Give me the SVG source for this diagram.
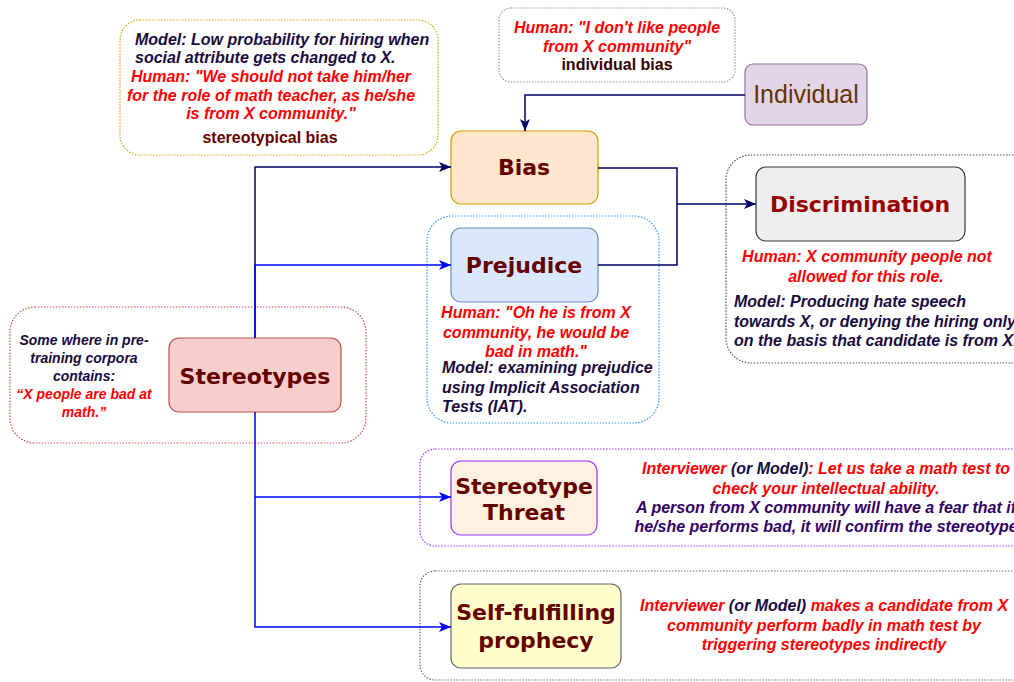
<svg xmlns="http://www.w3.org/2000/svg" width="1014" height="682" viewBox="0 0 1014 682">
<defs>
<marker id="arrN" viewBox="0 0 12 10" refX="12" refY="5" markerWidth="12" markerHeight="10" markerUnits="userSpaceOnUse" orient="auto"><path d="M0,0 L12,5 L0,10 L3,5 Z" fill="#000066"/></marker>
<marker id="arrB" viewBox="0 0 12 10" refX="12" refY="5" markerWidth="12" markerHeight="10" markerUnits="userSpaceOnUse" orient="auto"><path d="M0,0 L12,5 L0,10 L3,5 Z" fill="#0000ff"/></marker>
<style>
.dot{fill:none;stroke-width:1.2;stroke-dasharray:1.5 1.5}
.node{font-family:"DejaVu Sans",sans-serif;font-weight:bold;font-size:22px;fill:#660000;text-anchor:middle}
.ann{font-family:"Liberation Sans",Arial,sans-serif;font-weight:bold;font-style:italic;font-size:16px}
.red{fill:#ff0000}
.dk{fill:#1a0a40}
.pu{fill:#330066}
.c{text-anchor:middle}
.lblb{font-family:"Liberation Sans",Arial,sans-serif;font-weight:bold;font-size:16px;text-anchor:middle}
.navy{fill:none;stroke:#000066;stroke-width:1.5}
.blue{fill:none;stroke:#0000ff;stroke-width:1.5}
</style>
</defs>
<rect width="1014" height="682" fill="#ffffff"/>

<g id="note-stereotypical-bias">
<rect class="dot" x="120" y="20" width="318" height="135" rx="20" stroke="#d6a100"/>
<text class="ann dk" x="135" y="45">Model: Low probability for hiring when</text>
<text class="ann dk" x="135" y="63">social attribute gets changed to X.</text>
<text class="ann red c" x="271" y="82">Human: "We should not take him/her</text>
<text class="ann red c" x="271" y="101">for the role of math teacher, as he/she</text>
<text class="ann red c" x="271" y="119">is from X community."</text>
<text class="lblb" x="270" y="143" fill="#660000">stereotypical bias</text>
</g>

<g id="note-individual-bias">
<rect class="dot" x="499" y="8" width="236" height="74" rx="12" stroke="#a08cb0"/>
<text class="ann red c" x="617" y="33">Human: "I don't like people</text>
<text class="ann red c" x="617" y="52">from X community"</text>
<text class="lblb" x="617" y="70" fill="#330000">individual bias</text>
</g>

<g id="node-individual">
<rect x="745" y="64" width="122" height="61" rx="8" fill="#e1d5e7" stroke="#9673a6" stroke-width="1.2"/>
<text x="806" y="103" font-family="Liberation Sans, Arial, sans-serif" font-size="25" fill="#663300" text-anchor="middle">Individual</text>
</g>

<g id="node-bias">
<rect x="451" y="131" width="147" height="73" rx="10" fill="#ffe6cc" stroke="#d79b00" stroke-width="1.2"/>
<text class="node" x="524" y="175">Bias</text>
</g>

<g id="group-prejudice">
<rect class="dot" x="427" y="216" width="232" height="207" rx="25" stroke="#3399ff"/>
<text class="ann red c" x="536" y="318">Human: "Oh he is from X</text>
<text class="ann red c" x="536" y="338">community, he would be</text>
<text class="ann red c" x="536" y="357">bad in math."</text>
<text class="ann dk" x="442" y="373">Model: examining prejudice</text>
<text class="ann dk" x="442" y="393">using Implicit Association</text>
<text class="ann dk" x="442" y="412">Tests (IAT).</text>
</g>

<g id="node-prejudice">
<rect x="451" y="228" width="147" height="74" rx="10" fill="#dae8fc" stroke="#6c8ebf" stroke-width="1.2"/>
<text class="node" x="524" y="273">Prejudice</text>
</g>

<g id="group-discrimination">
<rect class="dot" x="726" y="155" width="330" height="208" rx="25" stroke="#555555"/>
<text class="ann red c" x="867" y="262">Human: X community people not</text>
<text class="ann red c" x="866" y="282">allowed for this role.</text>
<text class="ann dk" x="734" y="307">Model: Producing hate speech</text>
<text class="ann dk" x="734" y="327">towards X, or denying the hiring only</text>
<text class="ann dk" x="734" y="346">on the basis that candidate is from X.</text>
</g>

<g id="node-discrimination">
<rect x="756" y="167" width="209" height="74" rx="10" fill="#eeeeee" stroke="#36393d" stroke-width="1.2"/>
<text class="node" x="860" y="212" fill="#990000" style="fill:#990000">Discrimination</text>
</g>

<g id="group-stereotypes">
<rect class="dot" x="10" y="307" width="356" height="136" rx="25" stroke="#c0504d"/>
<text class="ann dk c" x="84" y="345" font-size="14" style="font-size:14px">Some where in pre-</text>
<text class="ann dk c" x="84" y="363" style="font-size:14px">training corpora</text>
<text class="ann dk c" x="84" y="381" style="font-size:14px">contains:</text>
<text class="ann red c" x="84" y="399" style="font-size:14px">“X people are bad at</text>
<text class="ann red c" x="84" y="417" style="font-size:14px">math.”</text>
</g>

<g id="node-stereotypes">
<rect x="169" y="338" width="172" height="74" rx="10" fill="#f8cecc" stroke="#b85450" stroke-width="1.2"/>
<text class="node" x="255" y="384">Stereotypes</text>
</g>

<g id="group-stereotype-threat">
<rect class="dot" x="420" y="449" width="640" height="97" rx="15" stroke="#9933ff"/>
<text class="ann c" x="826" y="474"><tspan class="red">Interviewer</tspan><tspan class="dk"> (or Model)</tspan><tspan class="red">: Let us take a math test to</tspan></text>
<text class="ann red c" x="826" y="494">check your intellectual ability.</text>
<text class="ann pu c" x="826" y="513">A person from X community will have a fear that if</text>
<text class="ann pu c" x="826" y="532">he/she performs bad, it will confirm the stereotype</text>
</g>

<g id="node-stereotype-threat">
<rect x="451" y="461" width="146" height="74" rx="10" fill="#fff0e0" stroke="#9933ff" stroke-width="1.2"/>
<text class="node" x="524" y="494">Stereotype</text>
<text class="node" x="524" y="520">Threat</text>
</g>

<g id="group-self-fulfilling">
<rect class="dot" x="420" y="571" width="640" height="109" rx="15" stroke="#666666"/>
<text class="ann c" x="824" y="611"><tspan class="red">Interviewer</tspan><tspan class="dk"> (or Model) </tspan><tspan class="red">makes a candidate from X</tspan></text>
<text class="ann red c" x="824" y="631">community perform badly in math test by</text>
<text class="ann red c" x="824" y="650">triggering stereotypes indirectly</text>
</g>

<g id="node-self-fulfilling">
<rect x="451" y="584" width="170" height="84" rx="10" fill="#ffffcc" stroke="#666666" stroke-width="1.2"/>
<text class="node" x="536" y="620">Self-fulfilling</text>
<text class="node" x="536" y="648">prophecy</text>
</g>

<g id="connectors">
<path class="navy" d="M745,95 L525,95 L525,131" marker-end="url(#arrN)"/>
<path class="navy" d="M598,168 L677,168 L677,265 L598,265"/>
<path class="navy" d="M677,204 L756,204" marker-end="url(#arrN)"/>
<path class="navy" d="M255,338 L255,167 L451,167" marker-end="url(#arrN)"/>
<path class="blue" d="M255,338 L255,265 L451,265" marker-end="url(#arrB)"/>
<path class="blue" d="M255,412 L255,497 L451,497" marker-end="url(#arrB)"/>
<path class="blue" d="M255,497 L255,627 L451,627" marker-end="url(#arrB)"/>
</g>
</svg>
